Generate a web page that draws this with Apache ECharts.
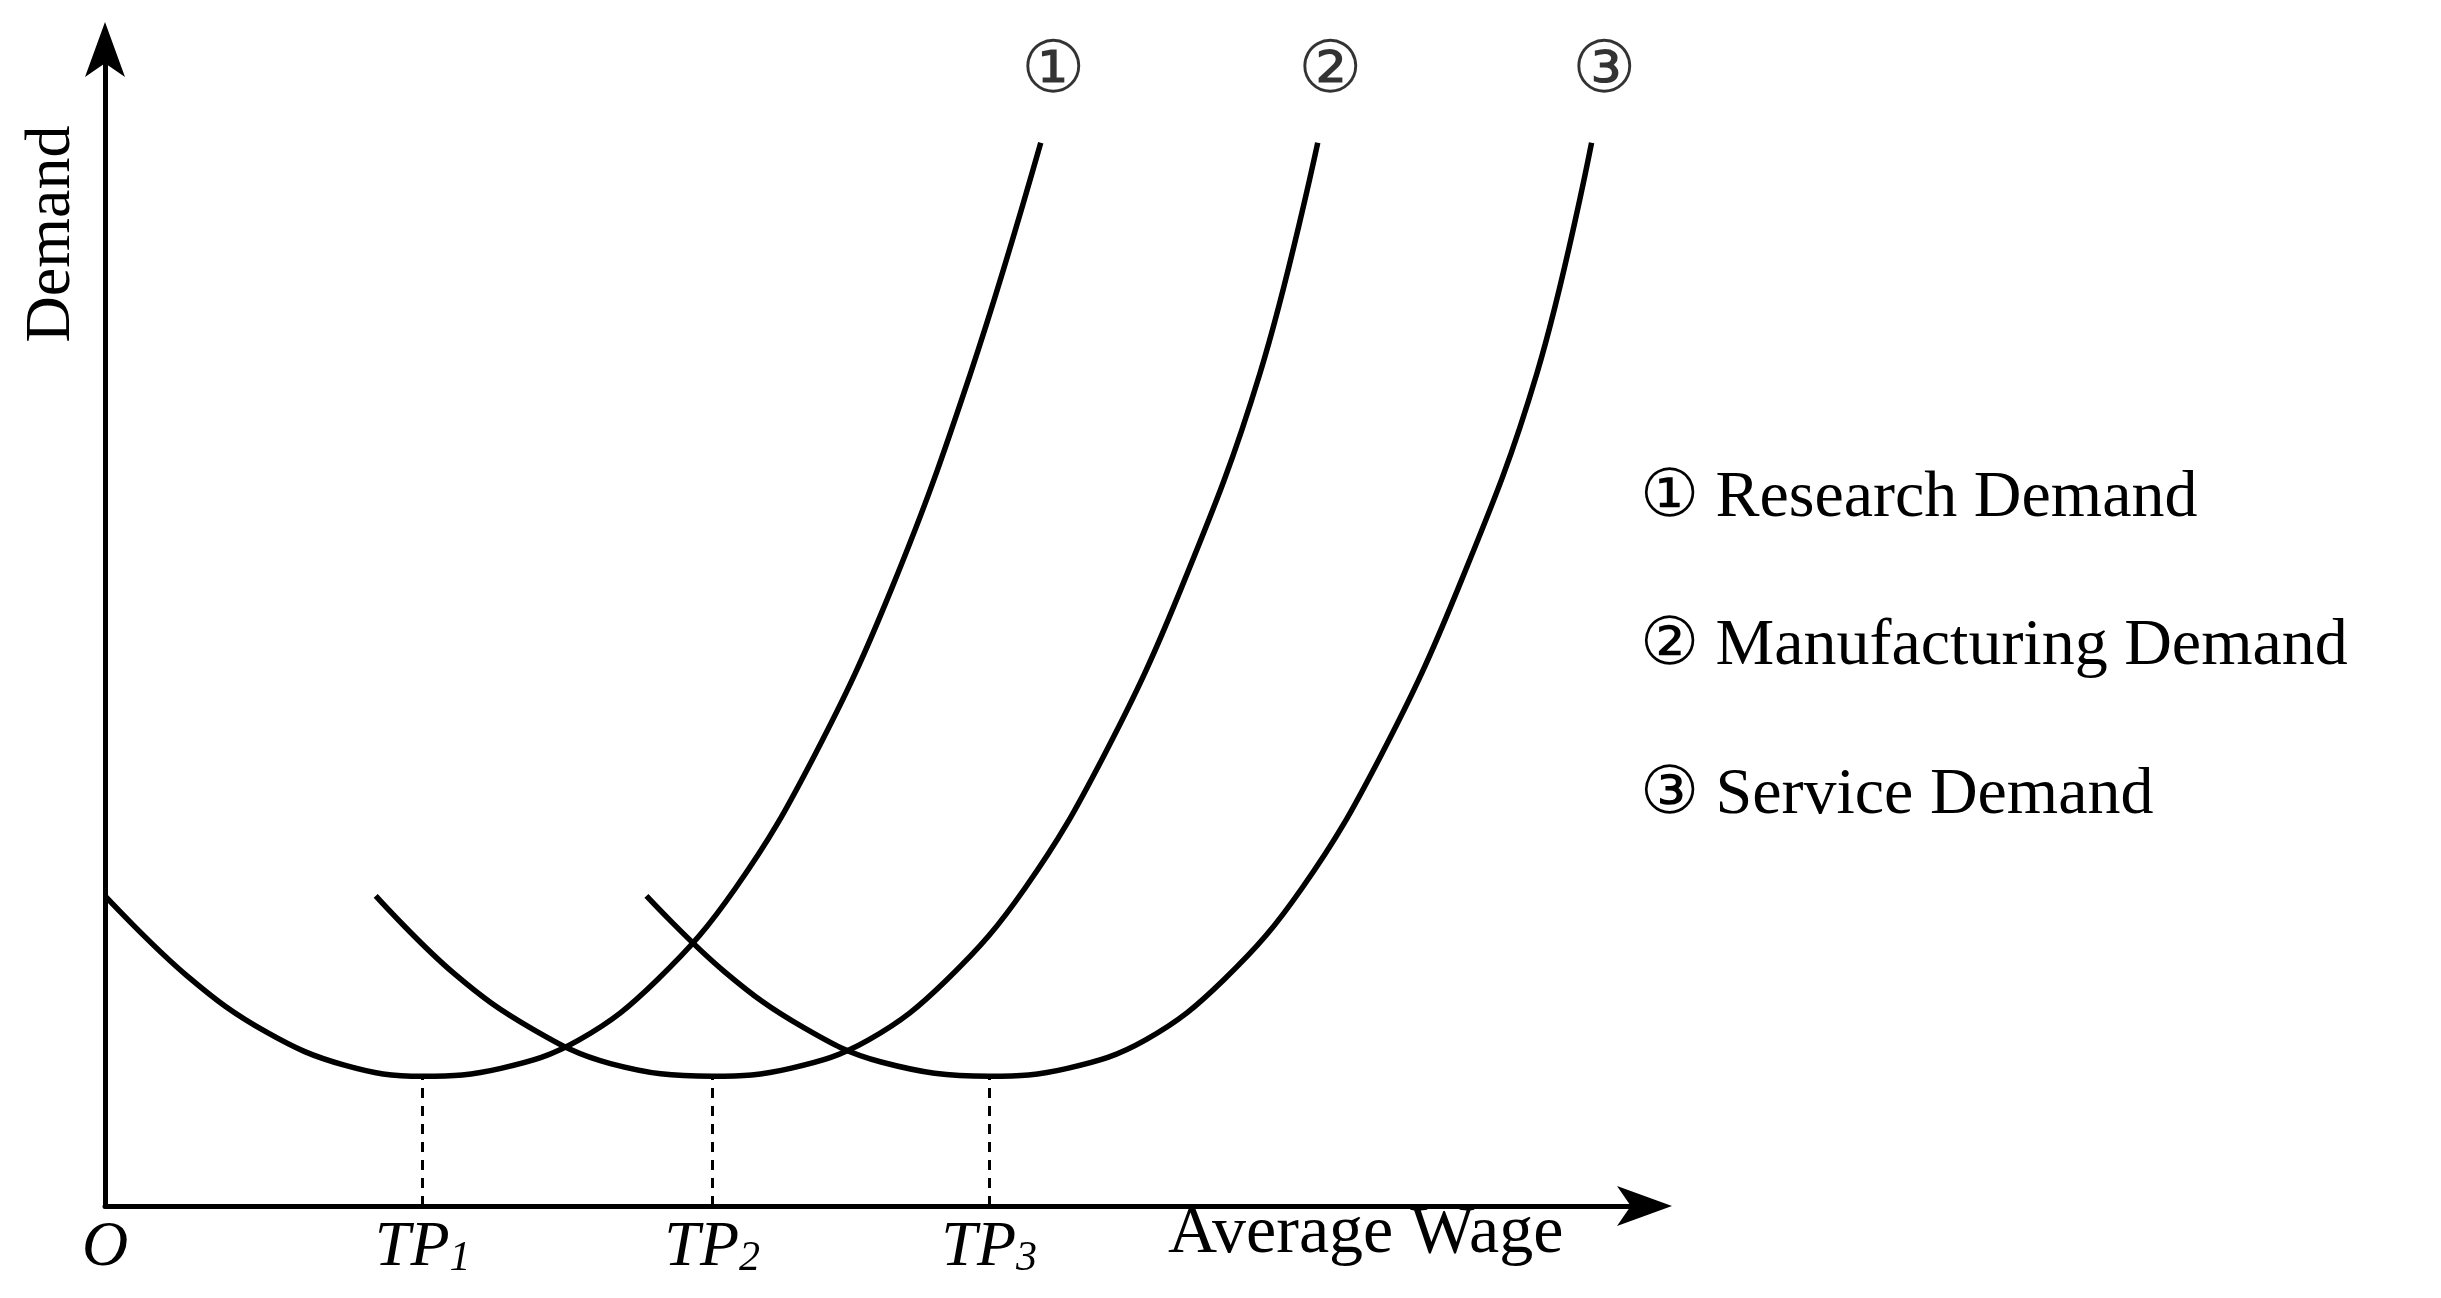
<!DOCTYPE html>
<html>
<head>
<meta charset="utf-8">
<script src="https://cdn.jsdelivr.net/npm/echarts@6/dist/echarts.min.js"></script>
<style>html,body{margin:0;padding:0;background:#fff}#chart-container{width:2441px;height:1298px}</style>
</head>
<body>
<div id="chart-container"></div>
<script>
// [wage, demand]
var research = [[0,196],[53,145],[103,110],[153,89],[203,82],[253,87],[303,105],[353,143],[403,201],[453,284],[503,391],[553,526],[598,672]];
var manufacturing = [[173,196],[223,147],[273,112],[323,90],[388,82],[438,87],[488,105],[538,143],[588,201],[638,284],[688,391],[738,526],[775,672]];
var service = [[346,196],[396,148],[446,113],[496,91],[565,82],[615,87],[665,105],[715,143],[765,201],[815,284],[865,391],[915,526],[950,672]];
var tpValues = [0, 203, 388, 565];
var tpLabels = ['{i|O}', '{i|TP}{s|1}', '{i|TP}{s|2}', '{i|TP}{s|3}'];
var curveMarks = ['①', '②', '③'];
var legendTexts = ['① Research Demand', '② Manufacturing Demand', '③ Service Demand'];

var serif = 'Liberation Serif';
var dom = document.getElementById('chart-container');
var myChart = echarts.init(dom, null, {renderer: 'canvas'});

function curve(data) {
    return {
        type: 'line', data: data, smooth: 0.4, symbol: 'none',
        lineStyle: {color: '#000', width: 5.5}
    };
}

var dashData = tpValues.slice(1).map(function (v) {
    return [{coord: [v, 0]}, {coord: [v, 82]}];
});

var series = [curve(research), curve(manufacturing), curve(service)];
series[0].markLine = {
    silent: true, symbol: 'none', label: {show: false},
    lineStyle: {color: '#000', type: [10, 8], width: 3},
    data: dashData
};
// circled marks at curve ends
series.push({
    type: 'scatter', symbolSize: 0,
    data: [research, manufacturing, service].map(function (d, i) {
        var e = d[d.length - 1];
        return {value: [e[0] + 8, e[1] + 44], label: {formatter: curveMarks[i]}};
    }),
    label: {show: true, position: 'inside', fontFamily: serif, fontSize: 72, color: '#000'}
});

var option = {
    animation: false,
    grid: {left: 105, top: 32, width: 1557, height: 1174},
    xAxis: {
        type: 'value', min: 0, max: 995,
        axisLine: {show: true, symbol: ['none', 'arrow'], symbolSize: [30, 55], symbolOffset: [0, 10], lineStyle: {color: '#000', width: 5}},
        axisTick: {show: false}, splitLine: {show: false},
        axisLabel: {
            customValues: tpValues,
            formatter: function (v) { return tpLabels[tpValues.indexOf(v)]; },
            margin: 10,
            rich: {
                i: {fontFamily: serif, fontStyle: 'italic', fontSize: 64, color: '#000'},
                s: {fontFamily: serif, fontStyle: 'italic', fontSize: 42, color: '#000', verticalAlign: 'bottom', padding: [20, 0, 0, 0]}
            }
        }
    },
    yAxis: {
        type: 'value', min: 0, max: 742,
        axisLine: {show: true, symbol: ['none', 'arrow'], symbolSize: [30, 55], symbolOffset: [0, 10], lineStyle: {color: '#000', width: 5}},
        axisTick: {show: false}, splitLine: {show: false}, axisLabel: {show: false}
    },
    graphic: [
        {type: 'text', left: 1168, top: 1200, style: {text: 'Average Wage', font: '68px "Liberation Serif"', fill: '#000'}},
        {type: 'text', x: 52, y: 234, rotation: Math.PI / 2, style: {text: 'Demand', font: '64px "Liberation Serif"', fill: '#000', align: 'center', verticalAlign: 'middle'}},
        {type: 'text', left: 1640, top: 466, style: {text: legendTexts[0], font: '66px "Liberation Serif"', fill: '#000'}},
        {type: 'text', left: 1640, top: 614, style: {text: legendTexts[1], font: '66px "Liberation Serif"', fill: '#000'}},
        {type: 'text', left: 1640, top: 763, style: {text: legendTexts[2], font: '66px "Liberation Serif"', fill: '#000'}}
    ],
    series: series
};
myChart.setOption(option);
window.addEventListener('resize', myChart.resize);
</script>
</body>
</html>
